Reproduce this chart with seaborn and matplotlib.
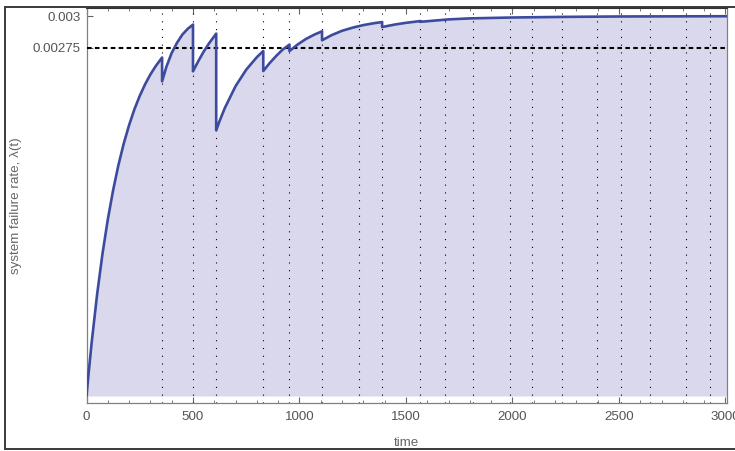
import numpy as np
import pandas as pd
import matplotlib
matplotlib.use("Agg")
import matplotlib.pyplot as plt
from matplotlib.lines import Line2D
from matplotlib.ticker import MultipleLocator, FixedLocator
import seaborn as sns

# ---- data ----
time_pts = [0, 10, 25, 50, 75, 100, 125, 150, 175, 200, 225, 250, 275, 300, 325, 355,
            355, 375, 400, 425, 450, 475, 500,
            500, 525, 550, 575, 609,
            609, 625, 650, 700, 750, 800, 830,
            830, 860, 890, 920, 953,
            953, 990, 1030, 1070, 1106,
            1106, 1150, 1200, 1250, 1300, 1350, 1388,
            1388, 1450, 1500, 1568,
            1568, 1700, 1800, 2000, 2250, 2500, 2750, 3006]
rate_milli = [0, 0.182, 0.434, 0.805, 1.123, 1.394, 1.626, 1.825, 1.995, 2.140, 2.265, 2.371, 2.462, 2.540, 2.606, 2.674,
              2.486, 2.600, 2.710, 2.790, 2.855, 2.900, 2.934,
              2.565, 2.645, 2.720, 2.785, 2.863,
              2.099, 2.173, 2.277, 2.448, 2.578, 2.677, 2.725,
              2.567, 2.630, 2.685, 2.735, 2.776,
              2.725, 2.775, 2.820, 2.855, 2.881,
              2.810, 2.850, 2.885, 2.910, 2.930, 2.945, 2.954,
              2.915, 2.935, 2.948, 2.962,
              2.956, 2.975, 2.983, 2.990, 2.995, 2.998, 2.999, 3.000]
maintenance_times = [355, 500, 609, 830, 953, 1106, 1278, 1388, 1568, 1681, 1815,
                     1987, 2092, 2233, 2398, 2510, 2648, 2817, 2926]
threshold = 0.00275
y_ticks = [0.00275, 0.003]
y_tick_labels = ["0.00275", "0.003"]
x_ticks = [0, 500, 1000, 1500, 2000, 2500, 3000]

df = pd.DataFrame({"time": time_pts, "rate": np.array(rate_milli) * 1e-3})

sns.set_style("ticks")
plt.rcParams["font.family"] = ["Liberation Sans", "DejaVu Sans"]

W, H = 735, 451
fig = plt.figure(figsize=(W / 100, H / 100), dpi=100)
left_px, right_px, top_px, bot_px = 86.5, 726.7, 7.5, 403
ax = fig.add_axes([left_px / W, 1 - bot_px / H, (right_px - left_px) / W, (bot_px - top_px) / H])

line_col = "#3c4b9e"
fill_col = "#dad8ed"

ax.fill_between(df["time"], 0, df["rate"], color=fill_col, linewidth=0, zorder=1)
for t in maintenance_times:
    ax.axvline(t, color="black", linestyle=(0, (1, 6)), linewidth=0.8, zorder=2)
ax.axhline(threshold, color="black", linestyle=(0, (2.2, 1.6)), linewidth=1.5, zorder=3)
sns.lineplot(data=df, x="time", y="rate", estimator=None, sort=False, ax=ax,
             color=line_col, linewidth=1.9, zorder=4)

ax.set_xlim(0, 3006)
ax.set_ylim(-0.0000553, 0.003069)

ax.xaxis.set_major_locator(FixedLocator(x_ticks))
ax.xaxis.set_minor_locator(MultipleLocator(100))
ax.set_yticks(y_ticks)
ax.set_yticklabels(y_tick_labels)

lab_col = "#555555"
ax.tick_params(axis="x", which="major", direction="in", length=4, width=0.8, color="#666666",
               top=True, bottom=True, labelsize=9.6, labelcolor=lab_col, pad=5.5)
ax.tick_params(axis="x", which="minor", direction="in", length=2.2, width=0.6, color="#666666",
               top=True, bottom=True)
ax.tick_params(axis="y", which="major", direction="in", length=4, width=0.8, color="#666666",
               left=True, right=False, labelsize=9.6, labelcolor=lab_col, pad=4)

ax.set_xlabel("time", fontsize=9.6, color="#666666", labelpad=10.5)
ax.set_ylabel("system failure rate, λ(t)", fontsize=9.6, color="#666666", labelpad=8)

for s in ["left", "bottom", "right"]:
    ax.spines[s].set_color("#808080")
    ax.spines[s].set_linewidth(0.9)
ax.spines["top"].set_color("#333333")
ax.spines["top"].set_linewidth(1.5)

# outer image frame
bc = "#3a3a3a"
x0 = 5 / W
yb = 1 - 449 / H
yt = 1 - 7 / H
fig.add_artist(Line2D([x0, x0], [yb, yt], color=bc, linewidth=1.4, transform=fig.transFigure))
fig.add_artist(Line2D([x0, 1.01], [yb, yb], color=bc, linewidth=1.4, transform=fig.transFigure))
fig.add_artist(Line2D([x0, 1.01], [yt, yt], color=bc, linewidth=1.4, transform=fig.transFigure))

fig.savefig("out.png", dpi=100)
